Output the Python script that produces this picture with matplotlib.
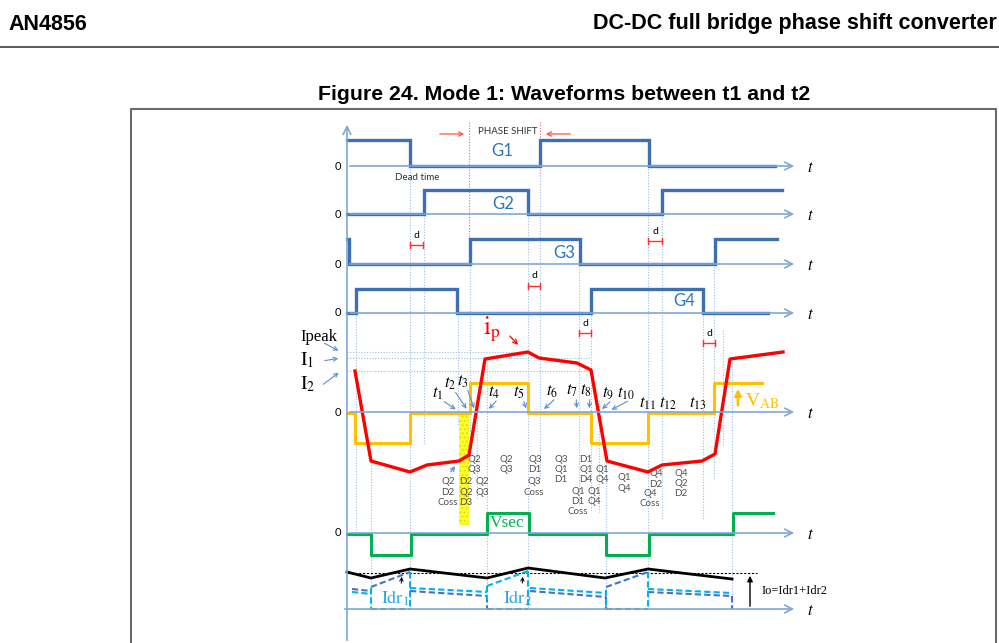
import matplotlib.pyplot as plt
from matplotlib.patches import Rectangle

plt.rcParams['mathtext.fontset'] = 'stix'

# ---- waveform data (time axis in pixel units of the original drawing) ----
# gate drives: switching instants and logic state between them
g1_edges = [347, 410, 540, 649, 775]
g1_state = [1, 0, 1, 0]
g2_edges = [347, 424, 528, 662, 782]
g2_state = [0, 1, 0, 1]
g3_edges = [347, 349, 470, 580, 715, 777]
g3_state = [1, 0, 1, 0, 1]
g4_edges = [347, 356, 457, 591, 703, 768]
g4_state = [0, 1, 0, 1, 0]

# bridge voltage VAB and secondary voltage Vsec (-1 / 0 / +1)
vab_edges = [347, 355, 410, 470, 528, 591, 648, 714, 762]
vab_state = [0, -1, 0, 1, 0, -1, 0, 1]
vsec_edges = [347, 371, 411, 487, 529, 606, 649, 733, 773]
vsec_state = [0, -1, 0, 1, 0, -1, 0, 1]

# primary current ip
ip_t = [355, 371, 410, 427, 459, 469, 485, 528, 539, 577, 591, 607, 648, 662, 702, 715, 730, 783]
ip_y = [371, 461, 472, 465, 461, 455, 359, 352, 358, 363, 370, 461, 472, 465, 461, 454, 359, 352]

# output current Io = Idr1 + Idr2
io_t = [347, 371, 410, 487, 528, 605, 648, 732]
io_y = [572, 578, 569, 578, 568, 578, 569, 579]

# rectifier currents (dashed outlines)
idr_blue = [
    ([352, 371], [589, 591]), ([371, 410], [587, 572]), ([371, 410], [609, 609]),
    ([410, 487], [591, 596]), ([487, 487], [596, 609]), ([487, 528], [609, 609]),
    ([530, 606], [591, 597]), ([606, 606], [597, 609]), ([606, 648], [587, 572]),
    ([606, 648], [609, 609]), ([648, 732], [592, 596]), ([732, 732], [596, 609]),
]
idr_cyan = [
    ([352, 371], [592, 594]), ([371, 371], [588, 609]), ([410, 410], [572, 609]),
    ([410, 487], [588, 592]), ([487, 528], [586, 571]), ([487, 487], [586, 600]),
    ([528, 528], [571, 609]), ([530, 606], [588, 593]), ([606, 606], [590, 609]),
    ([648, 648], [572, 609]), ([648, 732], [589, 593]),
]

# time markers
t_labels = ['t_1', 't_2', 't_3', 't_4', 't_5', 't_6', 't_7', 't_8', 't_9', 't_{10}',
            't_{11}', 't_{12}', 't_{13}']
t_lab_x = [438, 450, 463, 494, 519, 552, 572, 586, 608, 626, 648, 668, 698]
t_lab_y = [393, 383, 381, 392, 392, 391, 390, 390, 393, 393, 403, 403, 403]
t_tip_x = [458, 468, 475, 487, 527, 542, 577, 589, 600, 609, None, None, None]

# conducting devices per interval
dev_text = ['Q2\nD2\nCoss', 'D2\nQ2\nD3', 'Q2\nQ3', 'Q2\nQ3', 'Q2\nQ3', 'Q3\nD1', 'Q3\nCoss',
            'Q3\nQ1\nD1', 'D1\nQ1\nD4', 'Q1\nD1\nCoss', 'Q1\nQ4', 'Q1\nQ4', 'Q1\nQ4',
            'Q4\nD2', 'Q4\nCoss', 'Q4\nQ2\nD2']
dev_x = [448, 466, 474, 482, 506, 535, 534, 561, 586, 578, 602, 594, 624, 656, 650, 681]
dev_y = [483, 483, 460, 483, 460, 460, 483, 460, 460, 492, 470, 492, 479, 475, 494, 474]

# dead-time markers
d_x0 = [410, 648, 528, 579, 703]
d_x1 = [423, 662, 540, 591, 715]
d_y = [245, 241, 286, 333, 343]

# dotted guide lines: x, y-from, y-to
guides = [(356, 290, 535), (371, 462, 609), (410, 166, 609), (424, 190, 445),
          (458, 290, 425), (470, 255, 470), (477, 400, 500), (487, 360, 609),
          (528, 190, 609), (540, 175, 480), (579, 260, 505), (591, 290, 510),
          (599, 400, 512), (606, 460, 609), (648, 166, 609), (662, 190, 520),
          (703, 290, 520), (714, 264, 480), (723, 330, 445), (732, 360, 609)]

AX = '#7fa7d8'
GB = '#3d70b2'
GUIDE = '#9bbde6'
GREY = '#505050'


def step_xy(edges, states, base, amp):
    xs, ys = [], []
    for i, s in enumerate(states):
        xs += [edges[i], edges[i + 1]]
        ys += [base - s * amp, base - s * amp]
    return xs, ys


def h_axis(ax, y, x0=347):
    ax.annotate('', xy=(797, y), xytext=(x0, y),
                arrowprops=dict(arrowstyle='->', color=AX, lw=1.2, mutation_scale=14))
    ax.text(810, y + 1, '$t$', fontsize=12, ha='center', va='center')


fig = plt.figure(figsize=(9.99, 6.43), dpi=100)
ax = fig.add_axes([0, 0, 1, 1])
ax.set_xlim(0, 999)
ax.set_ylim(643, 0)
ax.axis('off')

# page header + caption
ax.text(8, 24, 'AN4856', fontsize=15.5, fontweight='bold', family='Liberation Sans',
        ha='left', va='center')
ax.text(997, 24, 'DC-DC full bridge phase shift converter', fontsize=15.5,
        fontweight='bold', family='Liberation Sans', ha='right', va='center')
ax.plot([0, 999], [47, 47], color='#404040', lw=1.2)
ax.text(564, 94, 'Figure 24. Mode 1: Waveforms between t1 and t2', fontsize=15.3,
        fontweight='bold', family='Liberation Sans', ha='center', va='center')
ax.plot([131, 131, 996, 996], [643, 109, 109, 643], color='#6a6a6a', lw=1.5)

# guide lines
for gx, gy0, gy1 in guides:
    ax.plot([gx, gx], [gy0, gy1], color=GUIDE, lw=0.8, ls=(0, (1, 1.5)))
for gx in [469, 540]:
    ax.plot([gx, gx], [122, 255 if gx == 469 else 175], color='#ff6060', lw=0.8,
            ls=(0, (1, 1.5)))
for hy, hx1 in [(352, 528), (358, 591), (371, 591)]:
    ax.plot([347, hx1], [hy, hy], color=GUIDE, lw=0.8, ls=(0, (1, 1.5)))

# vertical axis
ax.annotate('', xy=(347, 122), xytext=(347, 643),
            arrowprops=dict(arrowstyle='->', color=AX, lw=1.2, mutation_scale=14))

# gate signals
rows = [('G1', g1_edges, g1_state, 166, 26, (502, 151)),
        ('G2', g2_edges, g2_state, 214, 24, (503, 204)),
        ('G3', g3_edges, g3_state, 264, 25, (564, 253)),
        ('G4', g4_edges, g4_state, 313, 24, (684, 301))]
for name, ed, st, base, amp, lab in rows:
    h_axis(ax, base)
    ax.text(338, base, '0', fontsize=8, family='Lato', ha='center', va='center')
    xs, ys = step_xy(ed, st, base, amp)
    ax.plot(xs, ys, color=GB, lw=2.4, solid_joinstyle='miter')
    ax.text(lab[0], lab[1], name, fontsize=12, family='Lato', color='#2e75b6',
            ha='center', va='center')

ax.text(508, 131, 'PHASE SHIFT', fontsize=7, family='Lato', color='#303030',
        ha='center', va='center')
ax.annotate('', xy=(467, 134), xytext=(437, 134),
            arrowprops=dict(arrowstyle='->', color='#ff5050', lw=0.9, mutation_scale=8))
ax.annotate('', xy=(543, 134), xytext=(573, 134),
            arrowprops=dict(arrowstyle='->', color='#ff5050', lw=0.9, mutation_scale=8))
ax.text(417, 178, 'Dead time', fontsize=7, family='Lato', color='#303030',
        ha='center', va='center')

for x0, x1, dy in zip(d_x0, d_x1, d_y):
    ax.plot([x0, x1], [dy, dy], color='#ff3030', lw=1)
    ax.plot([x0, x0], [dy - 3, dy + 3], color='#ff3030', lw=1)
    ax.plot([x1, x1], [dy - 3, dy + 3], color='#ff3030', lw=1)
    ax.text((x0 + x1) / 2, dy - 10, 'd', fontsize=7.5, family='Lato', ha='center',
            va='center')

# VAB / ip section
h_axis(ax, 412)
ax.text(338, 412, '0', fontsize=8, family='Lato', ha='center', va='center')
ax.add_patch(Rectangle((459, 413), 10, 112, facecolor='#ffff30', edgecolor='#e0e000',
                       hatch='....', lw=0))
xs, ys = step_xy(vab_edges, vab_state, 413, 30)
ax.plot(xs, ys, color='#ffc000', lw=2.2)
ax.plot(ip_t, ip_y, color='#ff0000', lw=2.4)

ax.text(300, 337, 'Ipeak', fontsize=12, family='Liberation Serif', ha='left', va='center')
ax.text(300, 360, r'$\mathrm{I}_{1}$', fontsize=14, ha='left', va='center')
ax.text(300, 384, r'$\mathrm{I}_{2}$', fontsize=14, ha='left', va='center')
for (x0, y0), (x1, y1) in [((322, 342), (341, 352)), ((322, 361), (341, 358)),
                           ((321, 386), (341, 371))]:
    ax.annotate('', xy=(x1, y1), xytext=(x0, y0),
                arrowprops=dict(arrowstyle='->', color='#5b8fd0', lw=0.8, mutation_scale=7))

ax.text(492, 329, r'$\mathrm{i}_\mathrm{p}$', fontsize=18, color='#ff0000',
        ha='center', va='center')
ax.annotate('', xy=(520, 347), xytext=(508, 334),
            arrowprops=dict(arrowstyle='->', color='#ff0000', lw=0.9, mutation_scale=8))

ax.annotate('', xy=(738, 386), xytext=(738, 408),
            arrowprops=dict(arrowstyle='-|>', color='#ffc000', lw=2, mutation_scale=9))
ax.text(745, 401, r'$\mathrm{V}_\mathrm{AB}$', fontsize=14, color='#ffc000',
        ha='left', va='center')

for lab, lx, ly, tx in zip(t_labels, t_lab_x, t_lab_y, t_tip_x):
    ax.text(lx, ly, '$' + lab + '$', fontsize=12, ha='center', va='center')
    if tx is not None:
        ax.annotate('', xy=(tx, 411), xytext=(lx + 4, ly + 7),
                    arrowprops=dict(arrowstyle='->', color='#5b8fd0', lw=0.8,
                                    mutation_scale=7))

for s, dx, dyy in zip(dev_text, dev_x, dev_y):
    ax.text(dx, dyy - 5.5, s, fontsize=7, family='Lato', color=GREY, ha='center',
            va='top', linespacing=1.15)
ax.annotate('', xy=(457, 464), xytext=(449, 474),
            arrowprops=dict(arrowstyle='->', color='#5b8fd0', lw=0.9, mutation_scale=7))

# Vsec
h_axis(ax, 533)
ax.text(338, 533, '0', fontsize=8, family='Lato', ha='center', va='center')
xs, ys = step_xy(vsec_edges, vsec_state, 534, 21)
ax.plot(xs, ys, color='#00b050', lw=2.2)
ax.text(507, 523, 'Vsec', fontsize=12.5, family='Liberation Serif', color='#00b050',
        ha='center', va='center')

# output currents
h_axis(ax, 609, x0=342)
ax.plot([347, 757], [573, 573], color='black', lw=0.8, ls=(0, (2, 1.5)))
for xs, ys in idr_blue:
    ax.plot(xs, ys, color='#4472c4', lw=1.5, ls=(0, (3, 1.5)))
for xs, ys in idr_cyan:
    ax.plot(xs, ys, color='#00b0f0', lw=1.5, ls=(0, (3, 1.5)))
ax.plot(io_t, io_y, color='black', lw=2)
ax.text(395, 598, r'$\mathrm{Idr}_1$', fontsize=13, color='#2aa6e0', ha='center',
        va='center')
ax.text(518, 598, r'$\mathrm{Idr}_2$', fontsize=13, color='#2aa6e0', ha='center',
        va='center')
for ax_x in [402, 523]:
    ax.annotate('', xy=(ax_x, 574), xytext=(ax_x - 1, 586),
                arrowprops=dict(arrowstyle='->', color='black', lw=0.7, mutation_scale=6))
ax.annotate('', xy=(750, 573), xytext=(750, 609),
            arrowprops=dict(arrowstyle='-|>', color='black', lw=1, mutation_scale=8))
ax.text(762, 591, 'Io=Idr1+Idr2', fontsize=9, family='Liberation Serif', ha='left',
        va='center')

fig.savefig('out.png', dpi=100)
